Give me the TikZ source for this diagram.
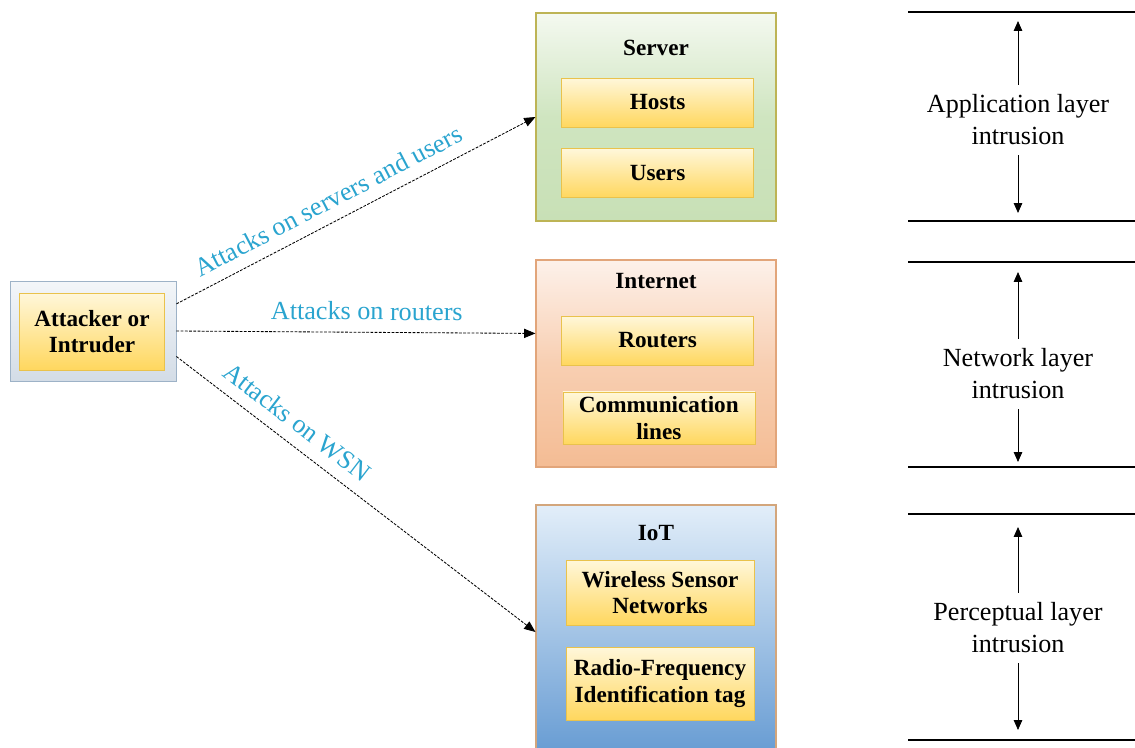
\documentclass[tikz,border=0pt]{standalone}
\usepackage{fontspec}
\setmainfont{LiberationSerif}[Extension=.ttf, UprightFont=*-Regular, BoldFont=*-Bold, ItalicFont=*-Italic, BoldItalicFont=*-BoldItalic]
\usetikzlibrary{arrows.meta, positioning}
\definecolor{ItemTop}{HTML}{FFF7DA}
\definecolor{ItemBottom}{HTML}{FFD75E}
\definecolor{ItemBorder}{HTML}{E9C24C}
\definecolor{AttackerTop}{HTML}{F3F6F9}
\definecolor{AttackerBottom}{HTML}{D3DCE6}
\definecolor{AttackerBorder}{HTML}{9DB2C7}
\definecolor{ServerTop}{HTML}{F4F9F0}
\definecolor{ServerMid}{HTML}{CFE5C0}
\definecolor{ServerBottom}{HTML}{C8E0B6}
\definecolor{ServerBorder}{HTML}{BDB455}
\definecolor{NetTop}{HTML}{FDF1EA}
\definecolor{NetMid}{HTML}{F8CFB2}
\definecolor{NetBottom}{HTML}{F4BC94}
\definecolor{NetBorder}{HTML}{E2A57A}
\definecolor{IotTop}{HTML}{E2EEF9}
\definecolor{IotBottom}{HTML}{5A93CF}
\definecolor{IotBorder}{HTML}{D3A67C}
\definecolor{LabelBlue}{HTML}{2AA4CF}
\tikzset{
    every node/.style={font=\fontsize{16.5}{19}\selectfont},
    % Yellow item box
    item/.style={
        rectangle,
        draw=ItemBorder,
        top color=ItemTop,
        bottom color=ItemBottom,
        minimum width=4.8cm,
        minimum height=1.225cm,
        align=center,
        font=\fontsize{16.5}{19}\selectfont\bfseries
    },
    % Outer group box
    groupbox/.style={
        rectangle,
        line width=0.8pt,
        minimum width=6cm
    },
    % Group title
    grouptitle/.style={
        font=\fontsize{16.5}{19}\selectfont\bfseries
    },
    % Attack connector
    attack/.style={
        -{Triangle[length=8pt,width=6.5pt]},
        dash pattern=on 2pt off 1pt,
        line width=0.6pt
    },
    % Attack label
    attacklabel/.style={
        sloped,
        above=5pt,
        text=LabelBlue,
        font=\fontsize{18.6}{21}\selectfont
    },
    % Layer text
    layertext/.style={
        align=center,
        inner sep=7pt,
        font=\fontsize{18.6}{22.7}\selectfont
    },
    % Layer line
    layerline/.style={
        line width=1.3pt
    },
    % Arrow style
    arrow/.style={
        -{Triangle[length=7pt,width=6pt]},
        line width=0.6pt
    }
}
\begin{document}
\begin{tikzpicture}
\useasboundingbox (0,0) rectangle (28.375,-18.675);

% Attacker
\node (attacker) [groupbox, draw=AttackerBorder, line width=0.6pt, top color=AttackerTop, bottom color=AttackerBottom,
    minimum width=4.15cm, minimum height=2.5cm] at (2.325,-8.275) {};
\node (intruder) [item, minimum width=3.625cm, minimum height=1.925cm] at (2.3,-8.29) {Attacker or\\Intruder};

% Server
\node (server) [groupbox, draw=ServerBorder, top color=ServerTop, bottom color=ServerBottom, middle color=ServerMid,
    minimum height=5.2cm] at (16.4,-2.925) {};
\node (servertitle) [grouptitle] at (16.4,-1.2) {Server};
\node (hosts) [item] at (16.44,-2.5625) {Hosts};
\node (users) [item] at (16.44,-4.325) {Users};

% Internet
\node (internet) [groupbox, draw=NetBorder, top color=NetTop, bottom color=NetBottom, middle color=NetMid,
    minimum height=5.175cm] at (16.4,-9.0875) {};
\node (internettitle) [grouptitle] at (16.4,-7.025) {Internet};
\node (routers) [item] at (16.44,-8.5125) {Routers};
\node (lines) [item, minimum height=1.25cm] at (16.47,-10.45) {Communication\\lines};

% IoT
\node (iot) [groupbox, draw=IotBorder, top color=IotTop, bottom color=IotBottom,
    minimum height=6.875cm] at (16.4,-16.0625) {};
\node (iottitle) [grouptitle] at (16.4,-13.325) {IoT};
\node (wsn) [item, minimum width=4.7cm, minimum height=1.625cm] at (16.5,-14.8125) {Wireless Sensor\\Networks};
\node (rfid) [item, minimum width=4.7cm, minimum height=1.825cm] at (16.5,-17.0875) {Radio-Frequency\\Identification tag};

% Attacks
\draw [attack] (attacker.18) -- node [attacklabel, pos=0.45] {Attacks on servers and users} (server.west);
\draw [attack] (attacker.east) -- node [attacklabel, pos=0.53] {Attacks on routers} (internet.166);
\draw [attack] (attacker.-17) -- node [attacklabel, pos=0.30] {Attacks on WSN} (iot.175);

% Layer boundaries
\draw [layerline] (22.7,-0.3) -- (28.5,-0.3);
\draw [layerline] (22.7,-5.525) -- (28.5,-5.525);
\draw [layerline] (22.7,-6.55) -- (28.5,-6.55);
\draw [layerline] (22.7,-11.675) -- (28.5,-11.675);
\draw [layerline] (22.7,-12.85) -- (28.5,-12.85);
\draw [layerline] (22.7,-18.5) -- (28.5,-18.5);

% Layer labels
\node (applayer) [layertext] at (25.45,-3.0) {Application layer\\intrusion};
\node (netlayer) [layertext] at (25.45,-9.35) {Network layer\\intrusion};
\node (perclayer) [layertext] at (25.45,-15.7) {Perceptual layer\\intrusion};

\coordinate (apptop) at (25.45,-0.525);
\coordinate (appbot) at (25.45,-5.325);
\coordinate (nettop) at (25.45,-6.8);
\coordinate (netbot) at (25.45,-11.55);
\coordinate (perctop) at (25.45,-13.175);
\coordinate (percbot) at (25.45,-18.25);

\draw [arrow] (applayer) -- (apptop);
\draw [arrow] (applayer) -- (appbot);
\draw [arrow] (netlayer) -- (nettop);
\draw [arrow] (netlayer) -- (netbot);
\draw [arrow] (perclayer) -- (perctop);
\draw [arrow] (perclayer) -- (percbot);
\end{tikzpicture}
\end{document}
